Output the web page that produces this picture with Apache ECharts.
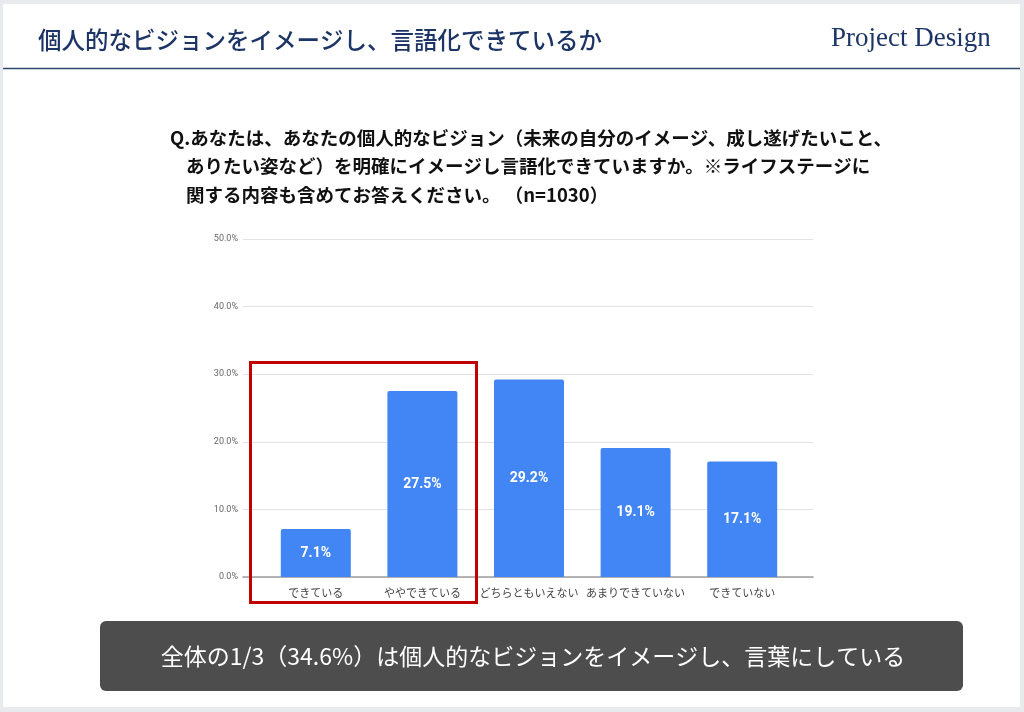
<!DOCTYPE html>
<html><head><meta charset="utf-8">
<script src="https://cdn.jsdelivr.net/npm/echarts@6/dist/echarts.min.js"></script>
<style>html,body{margin:0;padding:0;background:#e8eaed}#c{width:1024px;height:712px}</style>
</head><body><div id="c"></div>
<script>
const categories = ['できている','ややできている','どちらともいえない','あまりできていない','できていない'];
const values = [7.1, 27.5, 29.2, 19.1, 17.1];
const yMin = 0, yMax = 50, yStep = 10;
const pageTitle = '個人的なビジョンをイメージし、言語化できているか';
const questionLines = [
  'Q.あなたは、あなたの個人的なビジョン（未来の自分のイメージ、成し遂げたいこと、',
  'ありたい姿など）を明確にイメージし言語化できていますか。※ライフステージに',
  '関する内容も含めてお答えください。 （n=1030）'
];
const summary = '全体の1/3（34.6%）は個人的なビジョンをイメージし、言葉にしている';

const chart = echarts.init(document.getElementById('c'), null, {renderer:'canvas'});
const jp = '"Noto Sans CJK JP", "Noto Sans", sans-serif';
const fmt = v => v.toFixed(1) + '%';
chart.setOption({
  backgroundColor: '#e8eaed',
  animation: false,
  grid: [
    {left: 243, right: 211, top: 239, bottom: 135},
    {left: 262.5, right: 228.5, top: 239, bottom: 135}
  ],
  xAxis: [
    {gridIndex: 0, type: 'category', data: categories, axisLabel: {show: false}, axisTick: {show: false},
     axisLine: {show: true, lineStyle: {color: '#9e9e9e', width: 1.5}}, splitLine: {show: false}},
    {gridIndex: 1, type: 'category', data: categories, axisTick: {show: false},
     axisLine: {show: false},
     axisLabel: {color: '#444', fontSize: 11, margin: 10, fontFamily: jp, interval: 0}}
  ],
  yAxis: [
    {gridIndex: 0, type: 'value', min: yMin, max: yMax, interval: yStep,
     axisLabel: {formatter: v => v.toFixed(1) + '%', fontSize: 9, color: '#666', margin: 5, fontFamily: 'Roboto, sans-serif'},
     axisLine: {show: false}, axisTick: {show: false},
     splitLine: {lineStyle: {color: '#e3e3e3', width: 1}}},
    {gridIndex: 1, type: 'value', min: yMin, max: yMax, interval: yStep, show: false, splitLine: {show: false}}
  ],
  series: [{
    type: 'bar', xAxisIndex: 1, yAxisIndex: 1, data: values, barWidth: 70,
    itemStyle: {color: '#4285f4', borderRadius: [2, 2, 0, 0]},
    label: {show: true, position: 'inside', formatter: p => fmt(p.value), color: '#fff',
            fontSize: 14, fontWeight: 'bold', fontFamily: 'Roboto, sans-serif'}
  }],
  graphic: [
    {type: 'rect', shape: {x: 3, y: 4, width: 1017, height: 703}, style: {fill: '#ffffff'}, z: -10},
    {type: 'text', left: 38, top: 28, style: {text: pageTitle, fill: '#1c3566', fontSize: 23.5, fontWeight: 500, fontFamily: jp}},
    {type: 'text', left: 831, top: 25, style: {text: 'Project Design', fill: '#1c3566', fontSize: 27, fontFamily: '"Liberation Serif", "DejaVu Serif", serif'}},
    {type: 'line', shape: {x1: 3, y1: 68.5, x2: 1020, y2: 68.5}, style: {stroke: '#2c4770', lineWidth: 1.5}},
    {type: 'text', left: 170, top: 129, style: {text: questionLines[0], fill: '#111', fontSize: 18.5, fontWeight: 'bold', fontFamily: jp}},
    {type: 'text', left: 186, top: 157, style: {text: questionLines[1], fill: '#111', fontSize: 18.5, fontWeight: 'bold', fontFamily: jp}},
    {type: 'text', left: 186, top: 186, style: {text: questionLines[2], fill: '#111', fontSize: 18.5, fontWeight: 'bold', fontFamily: jp}},
    {type: 'rect', shape: {x: 250.5, y: 362.5, width: 226, height: 240}, style: {fill: 'none', stroke: '#c00000', lineWidth: 3}, z: 100},
    {type: 'rect', shape: {x: 100, y: 621, width: 863, height: 70, r: 6}, style: {fill: '#4d4d4d'}},
    {type: 'text', x: 533, y: 656, style: {text: summary, fill: '#fff', fontSize: 23, fontFamily: jp, align: 'center', verticalAlign: 'middle'}}
  ]
});
</script></body></html>
